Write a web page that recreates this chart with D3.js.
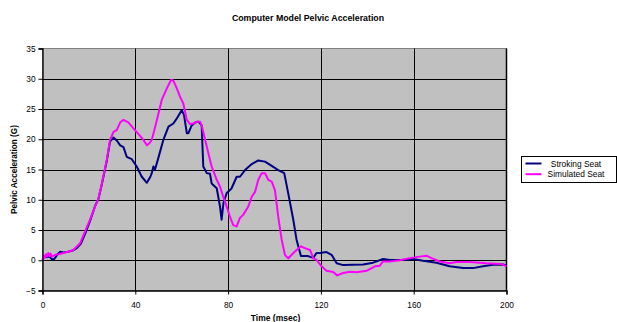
<!DOCTYPE html>
<html>
<head>
<meta charset="utf-8">
<script src="https://cdn.jsdelivr.net/npm/d3@7"></script>
<style>
  html, body { margin: 0; padding: 0; background: #fff; }
  svg { display: block; font-family: "Liberation Sans", Arial, sans-serif; }
</style>
</head>
<body>
<svg id="chart" width="617" height="322"></svg>
<script>
// Pelvic acceleration traces: [time (msec), acceleration (G)]
const strokingSeat = [
  [0,0.3],[1,0.6],[2,0.5],[3,0.6],[4,0.2],[4.7,0.1],[5.5,0.4],[6.5,1.0],[7.6,1.4],[9,1.3],
  [11,1.4],[13,1.6],[14.8,2.0],[16.5,2.7],[18.4,4.4],[20.5,6.5],[22,8.2],[22.7,9.0],[24.1,10.1],
  [25.6,12.6],[27.7,16.4],[29.1,19.6],[30.6,20.3],[32,19.8],[33.5,19.0],[34.9,18.7],[36.3,17.1],
  [38.5,16.7],[40.6,15.5],[42.8,13.8],[45,12.8],[46.5,13.8],[47.1,14.4],[47.8,15.5],[48.5,15.0],
  [50,17.0],[52.1,19.9],[54.3,22.1],[56.4,22.6],[58,23.5],[60,24.8],[61,24.0],[62.2,21.0],
  [62.9,21.0],[64.3,22.3],[66,22.8],[67.2,22.9],[68.6,22.3],[69.3,15.5],[70.8,14.4],[72.2,14.3],
  [72.9,12.7],[75.1,11.9],[76.5,8.9],[77.2,6.7],[78,9.5],[79.4,11.1],[80.8,11.6],[81.5,11.9],
  [83.7,13.8],[85.1,13.8],[87.3,14.9],[90.2,15.9],[93,16.5],[95.9,16.3],[98.8,15.6],[101.6,14.9],
  [104.2,14.4],[105.9,11.1],[108.1,6.7],[109.5,3.4],[111.4,0.7],[114.3,0.7],[116.7,0.4],
  [118.1,1.2],[119.6,1.2],[122.4,1.35],[124.6,0.9],[126.8,-0.5],[129.6,-0.8],[133.9,-0.75],
  [138.2,-0.7],[142.5,-0.4],[146.8,0.2],[149.7,0.05],[155.4,0.05],[159.7,0.2],[164,-0.1],
  [169.8,-0.4],[175.5,-1.0],[181.3,-1.3],[185.6,-1.3],[189.9,-1.0],[194.2,-0.75],[198.5,-0.7],
  [200,-0.85]
];
const simulatedSeat = [
  [0,0],[0.5,0.8],[1,0.4],[1.5,1.0],[2,0.6],[2.5,1.2],[3,0.7],[3.5,1.1],[4,0.6],[5.5,0.9],
  [7,1.0],[9,1.2],[11,1.4],[13.3,1.7],[16.2,2.8],[18.4,4.8],[20.5,6.7],[22.7,8.9],[24.1,10.2],
  [25.6,12.7],[27.7,16.6],[29.1,19.9],[30.6,21.2],[32,21.5],[33.5,22.8],[34.9,23.2],[37,22.8],
  [39.2,21.8],[41.5,20.8],[43.5,19.9],[45,19.0],[46,19.3],[47.1,19.9],[48.2,21.5],[49.3,23.2],
  [51.4,26.5],[53.6,28.4],[55.4,29.8],[56.4,29.7],[57.9,28.4],[59.3,27.0],[60.7,25.9],[62.2,23.2],
  [63.6,22.5],[65,22.6],[66.5,22.9],[67.9,22.9],[68.6,22.3],[70.1,19.9],[71.5,17.7],[72.9,15.5],
  [75.1,13.3],[76.5,12.2],[77.9,10.5],[79.4,8.9],[80.8,7.2],[82.2,5.8],[83.7,5.6],[85.1,7.0],
  [86.5,7.5],[88.7,8.9],[90.2,10.5],[91.6,11.3],[93,13.3],[94.5,14.4],[95.9,14.4],[97.3,13.3],
  [98.8,13.0],[100.2,11.6],[101.6,7.2],[103.1,3.4],[104.5,0.9],[105.9,0.3],[107.4,0.9],
  [109.5,1.7],[111.4,2.3],[113.1,2.0],[115.3,1.7],[116.7,0.35],[118.1,0.05],[120.3,-1.0],
  [122.4,-1.75],[125.3,-1.95],[127,-2.5],[129.6,-2.1],[132.5,-1.9],[135.4,-2.0],[139.7,-1.75],
  [143.3,-1.0],[145.4,-0.9],[146.8,-0.2],[149.7,-0.2],[154,0],[158.3,0.35],[162.6,0.6],
  [165.5,0.75],[167.7,0.35],[171.2,-0.2],[175.5,-0.5],[178.4,-0.3],[184.2,-0.3],[191.3,-0.5],
  [197.8,-0.6],[200,-1.0]
];
const timeTicks = [0, 40, 80, 120, 160, 200];
const accelTicks = [-5, 0, 5, 10, 15, 20, 25, 30, 35];
const seriesNames = ["Stroking Seat", "Simulated Seat"];
const seriesColors = ["#000080", "#FF00FF"];

const svg = d3.select("#chart");
const plot = { left: 42.5, right: 506.5, top: 48.5, bottom: 290.5 };

const x = d3.scaleLinear().domain([0, 200]).range([plot.left, plot.right]);
const y = d3.scaleLinear().domain([-5, 35]).range([plot.bottom, plot.top]);

// Title
svg.append("text")
  .attr("x", 308).attr("y", 21)
  .attr("text-anchor", "middle")
  .attr("font-size", 8.8).attr("font-weight", "bold")
  .text("Computer Model Pelvic Acceleration");

// Plot background
svg.append("rect")
  .attr("x", plot.left).attr("y", plot.top)
  .attr("width", plot.right - plot.left).attr("height", plot.bottom - plot.top)
  .attr("fill", "#C0C0C0").attr("stroke", "#808080").attr("stroke-width", 1);

// Gridlines
svg.append("g").selectAll("line").data(accelTicks.filter(d => d > -5 && d < 35)).join("line")
  .attr("x1", plot.left).attr("x2", plot.right)
  .attr("y1", d => Math.round(y(d)) + 0.5).attr("y2", d => Math.round(y(d)) + 0.5)
  .attr("stroke", "#000").attr("stroke-width", 1);
svg.append("g").selectAll("line").data(timeTicks.filter(d => d > 0 && d < 200)).join("line")
  .attr("y1", plot.top).attr("y2", plot.bottom)
  .attr("x1", d => Math.round(x(d)) + 0.5).attr("x2", d => Math.round(x(d)) + 0.5)
  .attr("stroke", "#000").attr("stroke-width", 1);

// Right frame edge
svg.append("line")
  .attr("x1", plot.right).attr("x2", plot.right)
  .attr("y1", plot.top).attr("y2", plot.bottom)
  .attr("stroke", "#000").attr("stroke-width", 1.5);

// Series lines
const line = d3.line().x(d => x(d[0])).y(d => y(d[1]));
[strokingSeat, simulatedSeat].forEach((data, i) => {
  svg.append("path")
    .datum(data)
    .attr("fill", "none")
    .attr("stroke", seriesColors[i])
    .attr("stroke-width", 2)
    .attr("stroke-linejoin", "round")
    .attr("d", line);
});

// Axes
const yAxis = svg.append("g")
  .attr("transform", `translate(${plot.left},0)`)
  .call(d3.axisLeft(y).tickValues(accelTicks).tickSize(4).tickPadding(3));
const xAxis = svg.append("g")
  .attr("transform", `translate(0,${plot.bottom})`)
  .call(d3.axisBottom(x).tickValues(timeTicks).tickSize(4).tickPadding(8));
[yAxis, xAxis].forEach(g => {
  g.select(".domain").attr("stroke", "#000").attr("stroke-width", 1.3);
  g.selectAll(".tick line").attr("stroke", "#000");
  g.selectAll(".tick text")
    .attr("font-family", "'Liberation Sans', Arial, sans-serif")
    .attr("font-size", 8.3).attr("fill", "#000");
});

// Axis titles
svg.append("text")
  .attr("transform", `translate(17,${(plot.top + plot.bottom) / 2}) rotate(-90)`)
  .attr("text-anchor", "middle")
  .attr("font-size", 8.2).attr("font-weight", "bold")
  .text("Pelvic Acceleration (G)");
svg.append("text")
  .attr("x", (plot.left + plot.right) / 2 + 1).attr("y", 321)
  .attr("text-anchor", "middle")
  .attr("font-size", 8.5).attr("font-weight", "bold")
  .text("Time (msec)");

// Legend
const legend = svg.append("g").attr("transform", "translate(521.5,156.5)");
legend.append("rect")
  .attr("width", 95).attr("height", 26)
  .attr("fill", "#fff").attr("stroke", "#000").attr("stroke-width", 1);
seriesNames.forEach((name, i) => {
  const ly = 7 + i * 10.7;
  legend.append("line")
    .attr("x1", 4).attr("x2", 20).attr("y1", ly).attr("y2", ly)
    .attr("stroke", seriesColors[i]).attr("stroke-width", 2);
  legend.append("text")
    .attr("x", 54.5).attr("y", ly + 3)
    .attr("text-anchor", "middle")
    .attr("font-size", 8.4)
    .text(name);
});
</script>
</body>
</html>
